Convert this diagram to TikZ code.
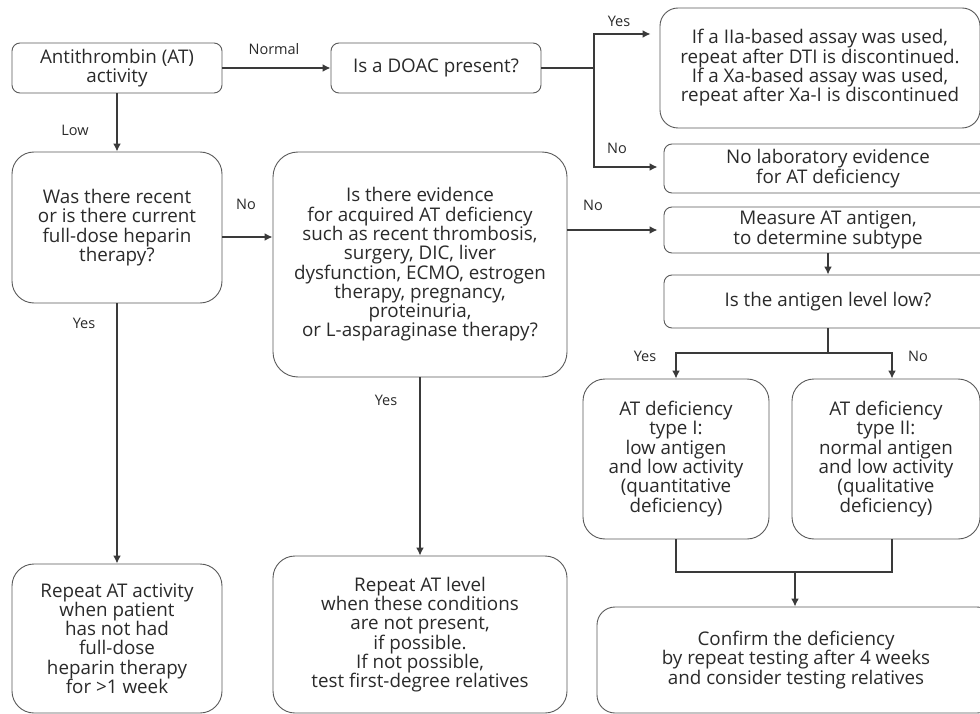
\documentclass[tikz,border=0pt]{standalone}
\usepackage{fontspec}
\setmainfont{Open Sans}
\usetikzlibrary{arrows.meta}
\definecolor{linec}{HTML}{3A3A3A}
\definecolor{bordc}{HTML}{5A5A5A}
\definecolor{textc}{HTML}{2A2A2A}
\begin{document}
\begin{tikzpicture}[x=1pt,y=-1pt,
  box/.style={draw=bordc,line width=0.9pt,rounded corners=#1,align=center,inner sep=0pt,text=textc,font=\fontsize{18.8}{19.3}\selectfont},
  box/.default=8pt,
  arr/.style={draw=linec,line width=2.2pt,-{Latex[length=8pt,width=8pt]}},
  conn/.style={draw=linec,line width=2.2pt},
  lab/.style={text=textc,font=\fontsize{14.5}{16}\selectfont,inner sep=0pt}]
\useasboundingbox (0,0) rectangle (980,714);
\fill[white] (0,0) rectangle (980,714);

% nodes
\node[box, minimum width=210pt, minimum height=50pt] (A) at (117,68) {Antithrombin (AT)\\activity};
\node[box, minimum width=210pt, minimum height=50pt] (doac) at (436,68) {Is a DOAC present?};
\node[box=18pt, minimum width=320pt, minimum height=120pt] (iia) at (820,68) {If a IIa-based assay was used,\\repeat after DTI is discontinued.\\If a Xa-based assay was used,\\repeat after Xa-I is discontinued};
\node[box, minimum width=328pt, minimum height=49pt] (nolab) at (828,168.5) {No laboratory evidence\\for AT deficiency};
\node[box, minimum width=328pt, minimum height=46pt] (measure) at (828,230) {Measure AT antigen,\\to determine subtype};
\node[box, minimum width=328pt, minimum height=53pt] (antigen) at (828,301.5) {Is the antigen level low?};
\node[box=22pt, minimum width=210pt, minimum height=151pt] (hep) at (117,227.5) {Was there recent\\or is there current\\full-dose heparin\\therapy?};
\node[box=25pt, minimum width=294pt, minimum height=225pt] (acq) at (420,264.5) {Is there evidence\\for acquired AT deficiency\\such as recent thrombosis,\\surgery, DIC, liver\\dysfunction, ECMO, estrogen\\therapy, pregnancy,\\proteinuria,\\or L-asparaginase therapy?};
\node[box=22pt, minimum width=186pt, minimum height=160pt] (typeI) at (676,459) {AT deficiency\\type I:\\low antigen\\and low activity\\(quantitative\\deficiency)};
\node[box=22pt, minimum width=188pt, minimum height=160pt] (typeII) at (886,459) {AT deficiency\\type II:\\normal antigen\\and low activity\\(qualitative\\deficiency)};
\node[box=22pt, minimum width=210pt, minimum height=149pt] (rep1) at (117,638.5) {Repeat AT activity\\when patient\\has not had\\full-dose\\heparin therapy\\for >1 week};
\node[box=22pt, minimum width=294pt, minimum height=157pt] (rep2) at (420,634.5) {Repeat AT level\\when these conditions\\are not present,\\if possible.\\If not possible,\\test first-degree relatives};
\node[box=18pt, minimum width=398pt, minimum height=106pt] (confirm) at (796,660) {Confirm the deficiency\\by repeat testing after 4 weeks\\and consider testing relatives};

% connectors
\draw[arr] (A.east) -- (doac.west);
\draw[arr] (A.south) -- (hep.north);
\coordinate (h1) at ([yshift=-9.5pt]hep.east);
\draw[arr] (h1) -- (h1 -| acq.west);
\draw[arr] (hep.south) -- (rep1.north);
\draw[arr] (acq.south) -- (rep2.north);
\draw[arr,shorten >=6pt] (acq.east |- measure.west) -- (measure.west);

\coordinate (b1) at (594,68);
\coordinate (b1t) at (594,34);
\coordinate (b1b) at (594,167);
\draw[conn] (doac.east) -- (b1);
\draw[arr,shorten >=9pt] (b1) -- (b1t) -- (b1t -| iia.west);
\draw[arr,shorten >=6pt] (b1) -- (b1b) -- (b1b -| nolab.west);

\draw[arr] (measure.south) -- (antigen.north);
\coordinate (s1) at (828,353);
\draw[conn] (antigen.south) -- (s1);
\draw[arr] (s1) -| (typeI.north);
\draw[arr] (s1) -| ([xshift=6pt]typeII.north);

\coordinate (jn) at (795,572);
\draw[conn] (typeI.south) |- (jn) -| ([xshift=6pt]typeII.south);
\draw[arr] (jn) -- (jn |- confirm.north);

% labels
\node[lab] (lnormal) at (274,49) {Normal};
\node[lab] (llow) at (75,130) {Low};
\node[lab] (lno1) at (246,204) {No};
\node[lab] (lyes1) at (84,323) {Yes};
\node[lab] (lyes2) at (386,400) {Yes};
\node[lab] (lno2) at (593,205) {No};
\node[lab] (lyes3) at (619,21) {Yes};
\node[lab] (lno3) at (617,148) {No};
\node[lab] (lyes4) at (645,356) {Yes};
\node[lab] (lno4) at (918,356) {No};
\end{tikzpicture}
\end{document}
